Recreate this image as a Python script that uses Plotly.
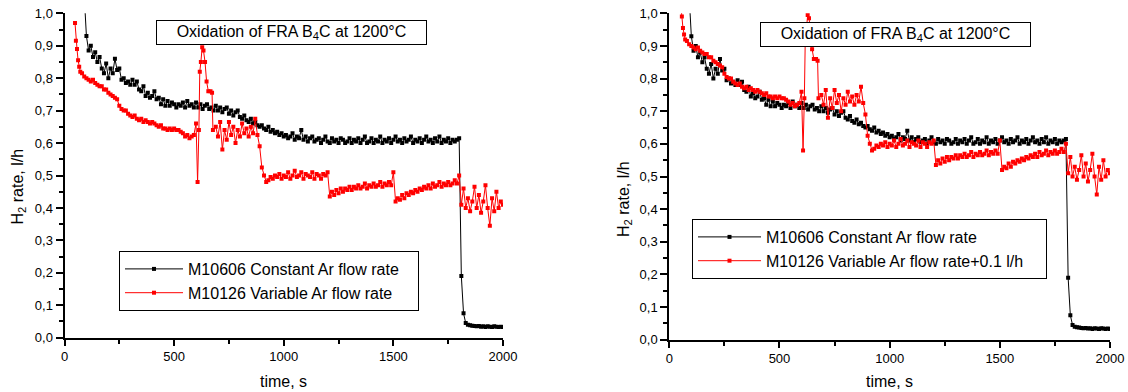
import plotly.graph_objects as go

# ---------------- data ----------------
time_black = [92] + list(range(100, 2001, 10))
h2_black = [1.03,
    0.93, 0.885, 0.90, 0.865, 0.88, 0.85, 0.865, 0.83, 0.815, 0.845,
    0.80, 0.83, 0.815, 0.86, 0.825, 0.83, 0.795, 0.80, 0.785, 0.79,
    0.78, 0.795, 0.78, 0.79, 0.765, 0.76, 0.775, 0.745, 0.755, 0.74,
    0.745, 0.76, 0.735, 0.74, 0.72, 0.735, 0.715, 0.73, 0.715, 0.725,
    0.72, 0.71, 0.72, 0.715, 0.725, 0.71, 0.73, 0.715, 0.72, 0.71,
    0.725, 0.71, 0.72, 0.705, 0.715, 0.72, 0.705, 0.71, 0.70, 0.715,
    0.70, 0.71, 0.695, 0.705, 0.71, 0.69, 0.70, 0.685, 0.695, 0.70,
    0.68, 0.675, 0.685, 0.67, 0.665, 0.675, 0.66, 0.665, 0.655, 0.65,
    0.655, 0.645, 0.64, 0.65, 0.635, 0.64, 0.63, 0.635, 0.625, 0.63,
    0.62, 0.625, 0.615, 0.62, 0.63, 0.61, 0.62, 0.615, 0.64, 0.61,
    0.62, 0.605, 0.615, 0.62, 0.605, 0.61, 0.615, 0.60, 0.61, 0.62,
    0.605, 0.60, 0.615, 0.605, 0.61, 0.60, 0.615, 0.61, 0.60, 0.605,
    0.615, 0.60, 0.61, 0.605, 0.615, 0.60, 0.61, 0.62, 0.60, 0.605,
    0.615, 0.60, 0.61, 0.605, 0.62, 0.60, 0.61, 0.605, 0.615, 0.60,
    0.61, 0.62, 0.605, 0.61, 0.60, 0.615, 0.605, 0.61, 0.62, 0.60,
    0.61, 0.605, 0.615, 0.60, 0.61, 0.62, 0.605, 0.61, 0.60, 0.615,
    0.605, 0.62, 0.60, 0.61, 0.605, 0.615, 0.60, 0.61, 0.605, 0.61,
    0.615, 0.19, 0.075, 0.045, 0.04, 0.038, 0.037, 0.036, 0.035, 0.036,
    0.034, 0.035, 0.033, 0.035, 0.034, 0.033, 0.035, 0.034, 0.033, 0.034,
    0.033]

time_red = ([48, 52, 57, 62, 67, 72] + list(range(80, 601, 10))
            + [607, 613, 617, 622, 628, 634, 641, 648, 656, 666, 673, 677]
            + list(range(690, 2001, 10)))
h2_red = [0.97, 0.915, 0.89, 0.855, 0.835, 0.82,
    0.815, 0.805, 0.80, 0.795, 0.79, 0.795, 0.785, 0.78, 0.775, 0.775,
    0.765, 0.765, 0.755, 0.75, 0.745, 0.74, 0.735, 0.715, 0.705, 0.70,
    0.70, 0.69, 0.685, 0.68, 0.685, 0.675, 0.67, 0.675, 0.665, 0.67,
    0.665, 0.66, 0.665, 0.66, 0.655, 0.65, 0.655, 0.645, 0.645, 0.64,
    0.645, 0.64, 0.645, 0.64, 0.64, 0.635, 0.63, 0.62, 0.625, 0.615,
    0.62, 0.625, 0.66,
    0.48, 0.64, 0.82, 0.85, 0.895, 0.885, 0.85, 0.79, 0.76, 0.76, 0.755, 0.64,
    0.65, 0.62, 0.665, 0.58, 0.64, 0.61, 0.665, 0.625, 0.65, 0.60,
    0.64, 0.62, 0.66, 0.63, 0.645, 0.62, 0.65, 0.63, 0.675, 0.625,
    0.59, 0.525, 0.50, 0.48,
    0.485, 0.495, 0.49, 0.50, 0.495, 0.505, 0.49, 0.50, 0.495, 0.51,
    0.49, 0.50, 0.515, 0.495, 0.50, 0.51, 0.49, 0.505, 0.50, 0.495,
    0.51, 0.49, 0.505, 0.50, 0.49, 0.505, 0.50, 0.51,
    0.435, 0.45, 0.44, 0.455, 0.445, 0.46, 0.45, 0.46, 0.455, 0.465,
    0.455, 0.465, 0.46, 0.47, 0.46, 0.465, 0.475, 0.46, 0.47, 0.465,
    0.475, 0.465, 0.47, 0.48, 0.465, 0.475, 0.47, 0.48, 0.47, 0.51,
    0.42, 0.43, 0.425, 0.44, 0.43, 0.445, 0.44, 0.45, 0.445, 0.455,
    0.45, 0.46, 0.455, 0.465, 0.46, 0.47, 0.46, 0.475, 0.465, 0.47,
    0.48, 0.465, 0.475, 0.47, 0.48, 0.47, 0.475, 0.485, 0.475, 0.50,
    0.41, 0.46, 0.40, 0.43, 0.39, 0.42, 0.465, 0.40, 0.44, 0.385,
    0.42, 0.47, 0.40, 0.345, 0.43, 0.39, 0.45, 0.40, 0.42, 0.41]

red_offset = 0.1  # right panel: "Variable Ar flow rate + 0.1 l/h"

name_black = "M10606 Constant Ar flow rate"
name_red_left = "M10126 Variable Ar flow rate"
name_red_right = "M10126 Variable Ar flow rate+0.1 l/h"
title_text = "Oxidation of FRA B<sub>4</sub>C at 1200°C"
x_ticks = [0, 500, 1000, 1500, 2000]

assert len(time_black) == len(h2_black), (len(time_black), len(h2_black))
assert len(time_red) == len(h2_red), (len(time_red), len(h2_red))

h2_red_shifted = [v + red_offset for v in h2_red]

FONT = "Liberation Sans, Arial, sans-serif"
W, H = 1128, 392
# right padding inside the legend frames (zero-width space keeps the spaces from being trimmed)
PAD_L = "\u00a0" * 3 + "\u200b"
PAD_R = "\u00a0" * 4 + "\u200b"

fig = go.Figure()

def add(x, y, color, name, xa, ya, legend):
    fig.add_trace(go.Scatter(
        x=x, y=y, mode="lines+markers", name=name,
        line=dict(color=color, width=1),
        marker=dict(symbol="square", size=4, color=color, line=dict(width=0)),
        xaxis=xa, yaxis=ya, legend=legend))

add(time_black, h2_black, "black", name_black + PAD_L, "x", "y", "legend")
add(time_red, h2_red, "#ff0000", name_red_left + PAD_L, "x", "y", "legend")
add(time_black, h2_black, "black", name_black + PAD_R, "x2", "y2", "legend2")
add(time_red, h2_red_shifted, "#ff0000", name_red_right + PAD_R, "x2", "y2", "legend2")

def xaxis(domain, anchor):
    return dict(domain=domain, anchor=anchor, range=[0, 2000], automargin=False,
                tickvals=x_ticks, showline=True, linecolor="black", linewidth=2,
                ticks="outside", ticklen=6, tickwidth=1.5, tickcolor="black",
                showgrid=False, zeroline=False,
                minor=dict(ticks="outside", ticklen=4, dtick=250, tick0=0,
                           tickcolor="black", tickwidth=1.5, showgrid=False),
                tickfont=dict(size=13, color="black", family=FONT))

def yaxis(domain, anchor):
    return dict(domain=domain, anchor=anchor, range=[0, 1.0], automargin=False,
                dtick=0.1, tick0=0, tickformat=".1f",
                showline=True, linecolor="black", linewidth=2,
                ticks="outside", ticklen=7, tickwidth=1.5, tickcolor="black",
                showgrid=False, zeroline=False,
                minor=dict(ticks="outside", ticklen=4, dtick=0.05, tick0=0,
                           tickcolor="black", tickwidth=1.5, showgrid=False),
                tickfont=dict(size=13, color="black", family=FONT))

px = lambda v: v / W
py = lambda v: 1 - v / H

annotations = []
for cx, cy in [(291.5, 32.5), (895, 34.5)]:
    annotations.append(dict(text=title_text, x=px(cx), y=py(cy), xref="paper", yref="paper",
                            showarrow=False, font=dict(size=16, color="black", family=FONT),
                            bordercolor="black", borderwidth=1, borderpad=0,
                            width=269, height=23, bgcolor="white",
                            xanchor="center", yanchor="middle"))
for cx in [283.7, 889.6]:
    annotations.append(dict(text="time, s", x=px(cx), y=py(381), xref="paper", yref="paper",
                            showarrow=False, font=dict(size=16, color="black", family=FONT),
                            xanchor="center", yanchor="middle"))
for cx, cy in [(18, 186.5), (624, 199)]:
    annotations.append(dict(text="H<sub>2</sub> rate, l/h", x=px(cx), y=py(cy),
                            xref="paper", yref="paper", textangle=-90,
                            showarrow=False, font=dict(size=16, color="black", family=FONT),
                            xanchor="center", yanchor="middle"))

legend_common = dict(bordercolor="black", borderwidth=1, bgcolor="white",
                     font=dict(size=16, color="black", family=FONT),
                     xanchor="left", yanchor="top", tracegroupgap=0)

fig.update_layout(
    width=W, height=H, margin=dict(l=0, r=0, t=0, b=0, autoexpand=False),
    paper_bgcolor="white", plot_bgcolor="white",
    separators=",.",
    xaxis=xaxis([64.5 / W, 503 / W], "y"),
    yaxis=yaxis([(H - 337.7) / H, (H - 13.3) / H], "x"),
    xaxis2=xaxis([669.3 / W, 1110 / W], "y2"),
    yaxis2=yaxis([(H - 339.7) / H, (H - 13.3) / H], "x2"),
    legend=dict(x=px(119), y=py(251), itemwidth=58, **legend_common),
    legend2=dict(x=px(692), y=py(219), itemwidth=63, **legend_common),
    annotations=annotations,
    showlegend=True,
)

fig.write_html("out.html")
